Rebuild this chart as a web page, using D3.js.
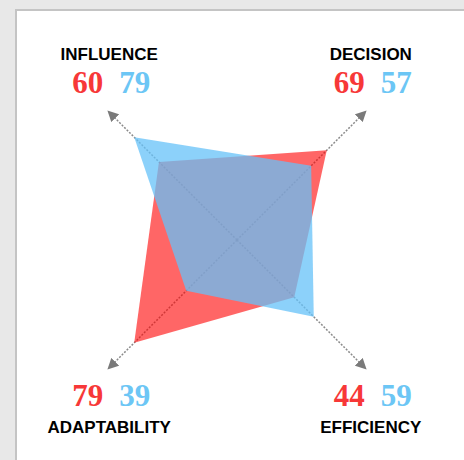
<!DOCTYPE html>
<html>
<head>
<meta charset="utf-8">
<script src="https://cdn.jsdelivr.net/npm/d3@7"></script>
<style>
  html, body { margin: 0; padding: 0; background: #e8e8e8; }
  svg { display: block; }
</style>
</head>
<body>
<div id="radar-chart"></div>
<script>
const categories = ['INFLUENCE', 'DECISION', 'EFFICIENCY', 'ADAPTABILITY'];
const angles = [-135, -45, 45, 135];
const redValues = [60, 69, 44, 79];
const blueValues = [79, 57, 59, 39];
const maxValue = 100;

const drawChart = () => {
  let width = 464,
    height = 460,
    center = { x: 237, y: 240 },
    radius = 184;

  let svg = d3.select('#radar-chart')
    .append('svg')
    .attr('width', width)
    .attr('height', height);

  // white panel with grey border on top/left
  svg.append('rect')
    .attr('x', 16).attr('y', 10)
    .attr('width', width).attr('height', height)
    .style('fill', '#fff')
    .style('stroke', '#c4c4c4')
    .style('stroke-width', 2);

  svg.append('defs').append('marker')
    .attr('id', 'arrow')
    .attr('viewBox', '0 0 10 10')
    .attr('refX', 9).attr('refY', 5)
    .attr('markerWidth', 11).attr('markerHeight', 11)
    .attr('markerUnits', 'userSpaceOnUse')
    .attr('orient', 'auto')
    .append('path')
    .attr('d', 'M0,0 L10,5 L0,10 Z')
    .style('fill', '#7a7a7a');

  let rScale = d3.scaleLinear().domain([0, maxValue]).range([0, radius]);
  let point = (i, v) => {
    let a = angles[i] * Math.PI / 180;
    return [center.x + rScale(v) * Math.cos(a), center.y + rScale(v) * Math.sin(a)];
  };

  let g = svg.append('g');

  // axes
  g.selectAll('.axis')
    .data(categories)
    .enter().append('line')
    .attr('x1', center.x).attr('y1', center.y)
    .attr('x2', (d, i) => point(i, maxValue - 1)[0])
    .attr('y2', (d, i) => point(i, maxValue - 1)[1])
    .style('stroke', '#8a8a8a')
    .style('stroke-width', 1.5)
    .style('stroke-dasharray', '2,1.5')
    .attr('marker-end', 'url(#arrow)');

  let line = d3.line();

  g.append('path')
    .attr('d', line(redValues.map((v, i) => point(i, v))) + 'Z')
    .style('fill', 'rgb(255,0,0)')
    .style('fill-opacity', 0.6);

  g.append('path')
    .attr('d', line(blueValues.map((v, i) => point(i, v))) + 'Z')
    .style('fill', 'rgb(102,194,248)')
    .style('fill-opacity', 0.75);

  // labels
  categories.forEach((c, i) => {
    let tip = point(i, maxValue - 1);
    let top = tip[1] < center.y;
    let lx = tip[0] + (tip[0] > center.x ? 5 : 1);
    let labelY = top ? tip[1] - 51 : tip[1] + 64;
    let numY = top ? tip[1] - 18 : tip[1] + 37;

    svg.append('text')
      .attr('x', lx).attr('y', labelY)
      .attr('text-anchor', 'middle')
      .style('font-family', '"Liberation Sans", Arial, sans-serif')
      .style('font-weight', 'bold')
      .style('font-size', '17px')
      .style('fill', '#000')
      .text(c);

    let num = svg.append('text')
      .attr('x', lx + 2).attr('y', numY)
      .attr('text-anchor', 'middle')
      .style('font-family', '"Liberation Serif", "Times New Roman", serif')
      .style('font-weight', 'bold')
      .style('font-size', '31px');
    num.append('tspan').style('fill', '#f73838').text(redValues[i]);
    num.append('tspan').attr('dx', 16).style('fill', '#6cc6f5').text(blueValues[i]);
  });
};

drawChart();
</script>
</body>
</html>
